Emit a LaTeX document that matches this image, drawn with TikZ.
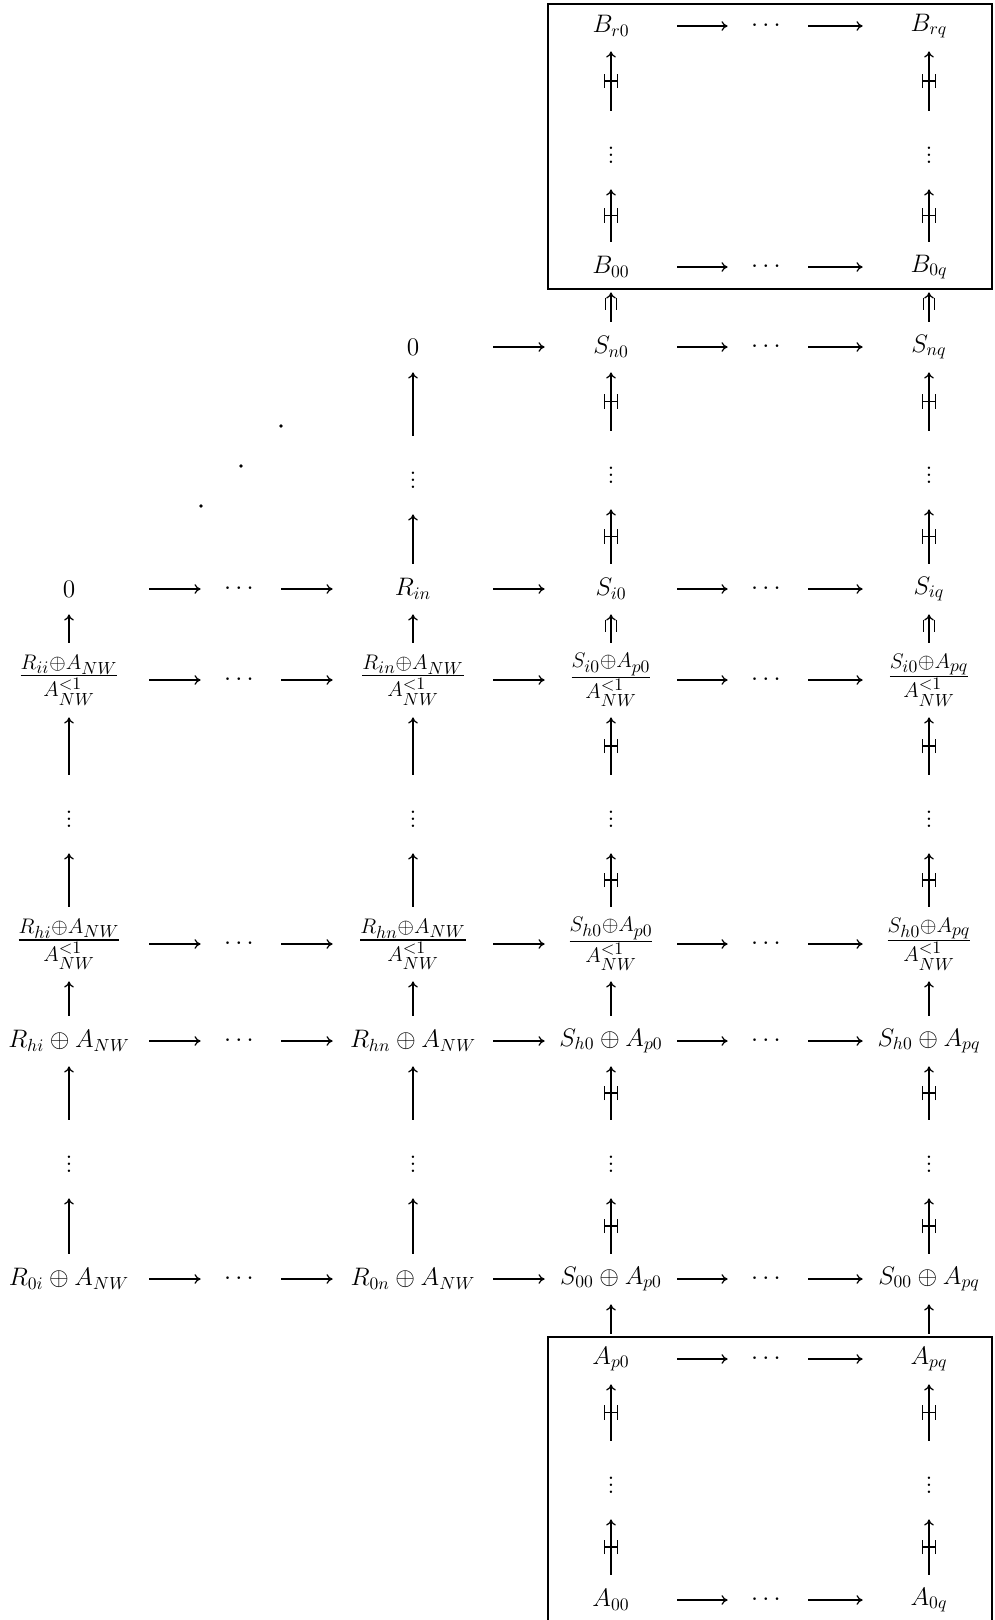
\documentclass[tikz,border=0pt]{standalone}
\usepackage{amsmath}
\usepackage{tikz}
\usetikzlibrary{arrows.meta, fit, decorations.markings}

\begin{document}
\begin{tikzpicture}[
  x=0.2mm, y=-0.2mm,
  every node/.style={font=\Large},
  lobj/.style={inner sep=0pt, minimum width=3.2cm, minimum height=1cm},
  robj/.style={inner sep=0pt, minimum width=2.64cm, minimum height=1cm},
  frac/.style={font=\LARGE, minimum height=1.48cm},
  vd/.style={inner sep=0pt, minimum height=1.56cm},
  hd/.style={inner sep=0pt, minimum width=1.6cm},
  frame/.style={draw, line width=1pt, inner sep=-2pt},
  arr/.style={-{Computer Modern Rightarrow[length=3.5pt, width=5.5pt]}, line width=0.7pt},
  hmark/.style={arr, postaction={decorate, decoration={markings,
    mark=at position 0.5 with {\draw[-, line width=0.6pt] (-4pt,-3.8pt) -- (4pt,-3.8pt)
      (-4pt,3.8pt) -- (4pt,3.8pt) (0pt,-3.8pt) -- (0pt,3.8pt);}}}},
  fork/.style={arr, postaction={decorate, decoration={markings,
    mark=at position 1 with {\draw[-, line width=0.6pt] (-3pt,-3.2pt) -- (-10pt,-3.2pt)
      (-3pt,3.2pt) -- (-10pt,3.2pt);}}}},
]
\useasboundingbox (0,0) rectangle (994,1620);

% B block
\node[robj] (Brc) at (611,26) {$B_{r0}$};
\node[hd] (BrM) at (768,26) {$\cdots$};
\node[robj] (Brd) at (929,26) {$B_{rq}$};
\node[vd] (Bvc) at (611,150) {$\vdots$};
\node[vd] (Bvd) at (929,150) {$\vdots$};
\node[robj] (B0c) at (611,267) {$B_{00}$};
\node[hd] (B0M) at (768,267) {$\cdots$};
\node[robj] (B0d) at (929,267) {$B_{0q}$};

% S rows
\node[lobj] (Snb) at (413,347) {$0$};
\node[robj] (Snc) at (611,347) {$S_{n0}$};
\node[hd] (SnM) at (768,347) {$\cdots$};
\node[robj] (Snd) at (929,347) {$S_{nq}$};
\node[vd] (Svb) at (413,475) {$\vdots$};
\node[vd] (Svc) at (611,470) {$\vdots$};
\node[vd] (Svd) at (929,470) {$\vdots$};
\node[lobj] (Sia) at (69,589) {$0$};
\node[hd] (SiL) at (241,589) {$\cdots$};
\node[lobj] (Sib) at (413,589) {$R_{in}$};
\node[robj] (Sic) at (611,589) {$S_{i0}$};
\node[hd] (SiM) at (768,589) {$\cdots$};
\node[robj] (Sid) at (929,589) {$S_{iq}$};

% quotient rows
\node[lobj, frac] (Fia) at (69,680) {$\frac{R_{ii}\oplus A_{NW}}{A^{<1}_{NW}}$};
\node[hd] (FiL) at (241,680) {$\cdots$};
\node[lobj, frac] (Fib) at (413,680) {$\frac{R_{in}\oplus A_{NW}}{A^{<1}_{NW}}$};
\node[robj, frac] (Fic) at (611,680) {$\frac{S_{i0}\oplus A_{p0}}{A^{<1}_{NW}}$};
\node[hd] (FiM) at (768,680) {$\cdots$};
\node[robj, frac] (Fid) at (929,680) {$\frac{S_{i0}\oplus A_{pq}}{A^{<1}_{NW}}$};
\node[vd] (Fva) at (69,814) {$\vdots$};
\node[vd] (Fvb) at (413,814) {$\vdots$};
\node[vd] (Fvc) at (611,814) {$\vdots$};
\node[vd] (Fvd) at (929,814) {$\vdots$};
\node[lobj, frac] (Fha) at (69,944) {$\frac{R_{hi}\oplus A_{NW}}{A^{<1}_{NW}}$};
\node[hd] (FhL) at (241,944) {$\cdots$};
\node[lobj, frac] (Fhb) at (413,944) {$\frac{R_{hn}\oplus A_{NW}}{A^{<1}_{NW}}$};
\node[robj, frac] (Fhc) at (611,944) {$\frac{S_{h0}\oplus A_{p0}}{A^{<1}_{NW}}$};
\node[hd] (FhM) at (768,944) {$\cdots$};
\node[robj, frac] (Fhd) at (929,944) {$\frac{S_{h0}\oplus A_{pq}}{A^{<1}_{NW}}$};

% sum rows
\node[lobj] (Rha) at (69,1041) {$R_{hi}\oplus A_{NW}$};
\node[hd] (RhL) at (241,1041) {$\cdots$};
\node[lobj] (Rhb) at (413,1041) {$R_{hn}\oplus A_{NW}$};
\node[robj] (Rhc) at (611,1041) {$S_{h0}\oplus A_{p0}$};
\node[hd] (RhM) at (768,1041) {$\cdots$};
\node[robj] (Rhd) at (929,1041) {$S_{h0}\oplus A_{pq}$};
\node[vd] (Rva) at (69,1159) {$\vdots$};
\node[vd] (Rvb) at (413,1159) {$\vdots$};
\node[vd] (Rvc) at (611,1159) {$\vdots$};
\node[vd] (Rvd) at (929,1159) {$\vdots$};
\node[lobj] (R0a) at (69,1279) {$R_{0i}\oplus A_{NW}$};
\node[hd] (R0L) at (241,1279) {$\cdots$};
\node[lobj] (R0b) at (413,1279) {$R_{0n}\oplus A_{NW}$};
\node[robj] (R0c) at (611,1279) {$S_{00}\oplus A_{p0}$};
\node[hd] (R0M) at (768,1279) {$\cdots$};
\node[robj] (R0d) at (929,1279) {$S_{00}\oplus A_{pq}$};

% A block
\node[robj] (Apc) at (611,1359) {$A_{p0}$};
\node[hd] (ApM) at (768,1359) {$\cdots$};
\node[robj] (Apd) at (929,1359) {$A_{pq}$};
\node[vd] (Avc) at (611,1480) {$\vdots$};
\node[vd] (Avd) at (929,1480) {$\vdots$};
\node[robj] (A0c) at (611,1600) {$A_{00}$};
\node[hd] (A0M) at (768,1600) {$\cdots$};
\node[robj] (A0d) at (929,1600) {$A_{0q}$};

% frames
\node[frame, fit=(Brc)(B0d)] (Bbox) {};
\node[frame, fit=(Apc)(A0d)] (Abox) {};

% diagonal dots
\fill (281,426) circle (1.1pt) (241,466) circle (1.1pt) (201,506) circle (1.1pt);

% horizontal arrows
\foreach \r in {Si,Fi,Fh,Rh,R0} {
  \draw[arr] (\r a) -- (\r L);
  \draw[arr] (\r L) -- (\r b);
}
\foreach \r in {Sn,Si,Fi,Fh,Rh,R0}
  \draw[arr] (\r b) -- (\r c);
\foreach \r in {Br,B0,Sn,Si,Fi,Fh,Rh,R0,Ap,A0} {
  \draw[arr] (\r c) -- (\r M);
  \draw[arr] (\r M) -- (\r d);
}

% vertical arrows, left columns
\draw[arr] (Sib) -- (Svb);
\draw[arr] (Svb) -- (Snb);
\foreach \c in {a,b} {
  \draw[arr] (Fi\c) -- (Si\c);
  \draw[arr] (Fv\c) -- (Fi\c);
  \draw[arr] (Fh\c) -- (Fv\c);
  \draw[arr] (Rh\c) -- (Fh\c);
  \draw[arr] (Rv\c) -- (Rh\c);
  \draw[arr] (R0\c) -- (Rv\c);
}

% vertical arrows, right columns
\foreach \c in {c,d} {
  \draw[hmark] (Bv\c) -- (Br\c);
  \draw[hmark] (B0\c) -- (Bv\c);
  \draw[fork] (Sn\c) -- (B0\c);
  \draw[hmark] (Sv\c) -- (Sn\c);
  \draw[hmark] (Si\c) -- (Sv\c);
  \draw[fork] (Fi\c) -- (Si\c);
  \draw[hmark] (Fv\c) -- (Fi\c);
  \draw[hmark] (Fh\c) -- (Fv\c);
  \draw[arr] (Rh\c) -- (Fh\c);
  \draw[hmark] (Rv\c) -- (Rh\c);
  \draw[hmark] (R0\c) -- (Rv\c);
  \draw[arr] (Ap\c) -- (R0\c);
  \draw[hmark] (Av\c) -- (Ap\c);
  \draw[hmark] (A0\c) -- (Av\c);
}

\end{tikzpicture}
\end{document}
